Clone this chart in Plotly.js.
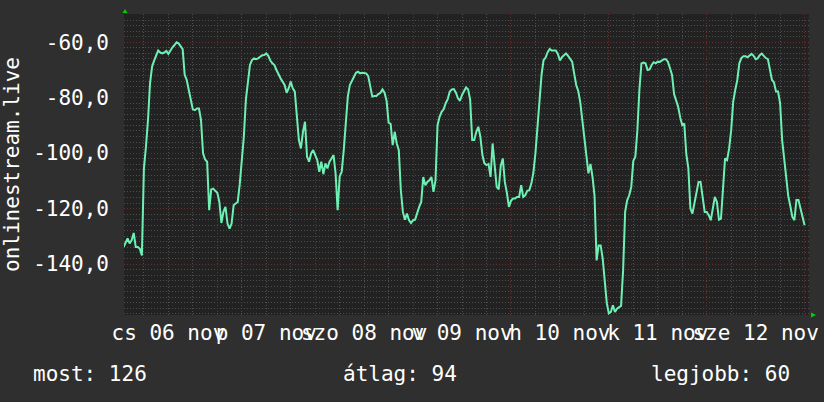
<!DOCTYPE html>
<html>
<head>
<meta charset="utf-8">
<script src="https://cdn.plot.ly/plotly-3.0.1.min.js"></script>
<style>html,body{margin:0;padding:0;background:#2f2f2f;}#chart{width:824px;height:402px;}</style>
</head>
<body>
<div id="chart"></div>
<script>
// ---- data ----
const seriesName = "onlinestream.live";
const startTime = "2025-11-06T01:00:00Z"; // first sample
const stepMinutes = 30;                   // sample spacing
const values = [
-133.9,-132.0,-130.8,-132.6,-131.4,-128.8,-133.9,-133.9,-134.5,-136.9,
-105.5,-97.7,-88.1,-74.8,-68.8,-66.6,-64.9,-63.0,-63.7,-64.0,
-63.7,-63.1,-64.2,-62.8,-61.8,-61.0,-60.0,-60.4,-61.3,-62.5,
-71.8,-73.6,-77.2,-80.8,-84.2,-84.5,-83.9,-83.9,-88.1,-100.1,
-102.3,-103.1,-120.6,-113.1,-112.8,-113.6,-114.3,-117.6,-125.2,-121.2,
-119.4,-125.4,-127.2,-125.4,-118.8,-118.2,-117.6,
-111.2,-103.7,-94.1,-80.8,-74.2,-68.2,-66.4,-65.8,-66.1,-65.8,
-65.2,-64.7,-64.6,-64.0,-64.9,-66.6,-67.6,-68.2,-70.0,-71.8,
-73.0,-74.2,-75.4,-78.2,-76.6,-74.2,-76.6,-77.8,-86.9,-95.3,
-98.3,-92.3,-88.7,-101.3,-103.1,-100.1,-98.9,-100.7,-102.5,-106.7,
-103.1,-107.6,-103.7,-105.5,-103.1,-101.9,-100.7,-107.3,-120.6,-108.5,
-106.7,-98.9,-89.9,-79.6,-75.4,-73.9,-73.0,
-71.0,-70.6,-71.2,-71.0,-71.2,-71.2,-72.2,-75.8,-79.6,-79.4,
-79.4,-78.7,-78.2,-77.0,-78.2,-81.1,-89.0,-89.4,-97.1,-92.3,
-96.5,-98.9,-113.4,-121.2,-124.0,-121.8,-124.2,-125.2,-124.2,-124.0,
-121.2,-119.4,-117.6,-108.6,-111.6,-110.4,-109.8,-108.6,-114.0,-109.8,
-89.9,-86.9,-85.1,-84.2,-82.0,-80.5,-77.8,-77.0,-76.9,-78.2,
-80.2,-81.1,-79.0,-77.5,-76.3,-77.0,
-80.8,-95.3,-95.3,-92.3,-90.5,-94.1,-100.7,-103.7,-104.3,-103.9,
-108.6,-96.5,-103.5,-112.2,-113.1,-104.5,-101.9,-110.4,-114.3,-119.4,
-117.2,-116.4,-116.4,-115.8,-115.8,-111.6,-115.8,-115.2,-113.6,-113.4,
-111.0,-107.1,-100.1,-90.5,-82.0,-71.8,-66.4,-65.5,-63.6,-62.4,
-63.0,-63.0,-63.0,-64.2,-66.6,-65.4,-64.6,-64.0,-64.9,-66.0,
-67.0,-71.2,-75.4,-77.6,-81.7,-88.1,-94.7,
-102.5,-107.3,-103.9,-108.6,-115.5,-138.7,-133.3,-133.3,-138.1,-147.1,
-154.1,-157.8,-157.3,-154.9,-157.3,-156.1,-155.5,-155.1,-142.3,-121.2,
-117.0,-115.2,-112.2,-102.8,-101.3,-91.7,-77.0,-67.6,-67.3,-67.6,
-70.0,-69.8,-68.2,-67.2,-67.6,-67.0,-67.1,-66.7,-66.1,-66.1,
-67.1,-69.4,-71.8,-78.7,-80.8,-83.3,-87.1,-89.9,-89.3,-100.4,
-105.5,-120.0,-121.8,-118.2,-115.2,-110.4,
-110.4,-117.0,-121.2,-121.2,-122.4,-124.2,-120.4,-115.8,-117.6,-124.0,
-123.6,-111.9,-101.9,-102.5,-98.3,-91.7,-81.4,-77.2,-73.6,-67.6,
-65.7,-65.0,-65.0,-65.4,-64.8,-64.2,-64.9,-66.1,-65.8,-64.7,
-64.1,-64.9,-65.7,-66.1,-70.0,-73.6,-74.5,-77.8,-77.8,-82.0,
-95.3,-102.5,-108.0,-115.5,-119.1,-123.0,-124.2,-116.9,-116.9,-120.0,
-123.6,-126.0
];
const xRange = ["2025-11-06 01:07", "2025-11-13 01:05"];
const dayLines = ["2025-11-07","2025-11-08","2025-11-09","2025-11-10","2025-11-11","2025-11-12","2025-11-13"];
const labelTimes = ["2025-11-06 12:00","2025-11-07 12:00","2025-11-08 12:00","2025-11-09 12:00","2025-11-10 12:00","2025-11-11 12:00","2025-11-12 12:00"];
const labelTexts = ["cs 06 nov","p 07 nov","szo 08 nov","v 09 nov","h 10 nov","k 11 nov","sze 12 nov"];
const yTickVals = [-140,-120,-100,-80,-60];
const yTickText = ["-140,0","-120,0","-100,0","-80,0","-60,0"];
const yRange = [-158.4, -49.8];
const legendTexts = ["most: 126","átlag: 94","legjobb: 60"];

// ---- build ----
const t0 = Date.parse(startTime);
const times = values.map((_, i) => new Date(t0 + i * stepMinutes * 60000).toISOString().replace("T"," ").slice(0,19));

const FONT = "DejaVu Sans Mono";
const majorGrid = "rgb(104,46,46)";
const minorGrid = "rgb(78,78,78)";

const traces = [
  {x: times, y: values, type: "scatter", mode: "lines", xaxis: "x", yaxis: "y",
   line: {color: "#6ef0b4", width: 2}, hoverinfo: "skip", showlegend: false, name: seriesName},
  {x: [], y: [], type: "scatter", mode: "lines", xaxis: "x2", yaxis: "y", showlegend: false, hoverinfo: "skip"}
];

const legendX = [-0.1355, 0.3168, 0.7665];

const layout = {
  width: 824, height: 402,
  margin: {l: 124, r: 15, t: 14, b: 87},
  paper_bgcolor: "#2f2f2f",
  plot_bgcolor: "#222222",
  font: {family: FONT, size: 21, color: "#ffffff"},
  showlegend: false,
  xaxis: {
    type: "date", range: xRange, tickmode: "array", tickvals: dayLines,
    showticklabels: false, ticks: "", showline: false, zeroline: false,
    showgrid: true, gridcolor: majorGrid, griddash: "1px,2px", gridwidth: 1,
    minor: {dtick: 6 * 3600 * 1000, tick0: "2025-11-06", showgrid: true, gridcolor: minorGrid, griddash: "1px,2px", gridwidth: 1, ticks: ""}
  },
  xaxis2: {
    type: "date", range: xRange, overlaying: "x", anchor: "y", side: "bottom",
    tickmode: "array", tickvals: labelTimes, ticktext: labelTexts, tickangle: 0,
    showgrid: false, zeroline: false, showline: false, ticks: "",
    ticklabelstandoff: 3,
    tickfont: {family: FONT, size: 21, color: "#ffffff"}
  },
  yaxis: {
    range: yRange, tickmode: "array", tickvals: yTickVals, ticktext: yTickText,
    ticks: "", showline: false, zeroline: false, ticklabelstandoff: 14,
    showgrid: true, gridcolor: majorGrid, griddash: "1px,2px", gridwidth: 1,
    tickfont: {family: FONT, size: 21, color: "#ffffff"},
    minor: {dtick: 2, tick0: 0, showgrid: true, gridcolor: minorGrid, griddash: "1px,2px", gridwidth: 1, ticks: ""},
    title: {text: seriesName, standoff: 10, font: {family: FONT, size: 21, color: "#ffffff"}}
  },
  annotations: legendTexts.map((t, i) => ({
    text: t, xref: "paper", yref: "paper", x: legendX[i], y: -0.1944,
    xanchor: "left", yanchor: "middle", showarrow: false,
    font: {family: FONT, size: 21, color: "#ffffff"}
  })),
  shapes: [
    {type: "path", xref: "paper", yref: "paper", path: "M 0.0015 1.0166 L -0.0022 1.0033 L 0.0051 1.0033 Z", fillcolor: "#00d000", line: {width: 0}},
    {type: "path", xref: "paper", yref: "paper", path: "M 1.0102 0 L 1.0029 0.0083 L 1.0029 -0.0083 Z", fillcolor: "#00d000", line: {width: 0}}
  ]
};

Plotly.newPlot("chart", traces, layout, {staticPlot: true, displayModeBar: false});
</script>
</body>
</html>
